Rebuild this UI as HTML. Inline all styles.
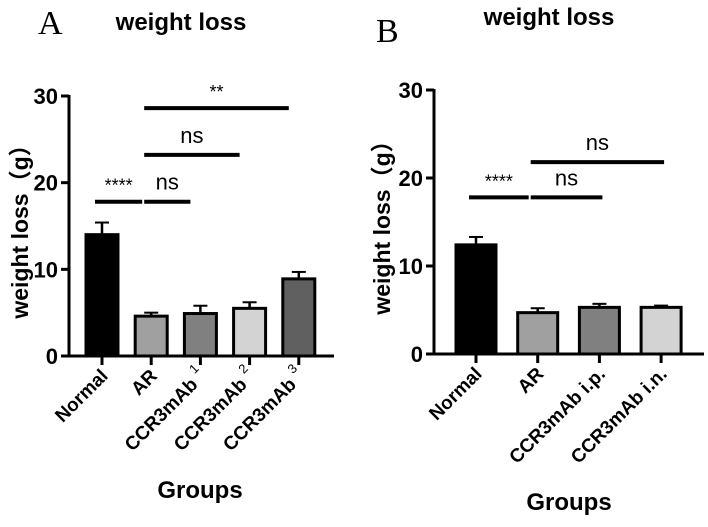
<!DOCTYPE html>
<html><head><meta charset="utf-8"><style>
body{margin:0;background:#fff;}
svg{display:block;font-family:"Liberation Sans",Arial,sans-serif;}
</style></head><body>
<svg id="chart" width="708" height="527" viewBox="0 0 708 527" xmlns="http://www.w3.org/2000/svg"></svg>
<script>
const catsA = ["Normal","AR","CCR3mAb","CCR3mAb","CCR3mAb"];
const supA = ["","","1","2","3"];
const valsA = [14.0,4.6,4.9,5.5,8.9];
const errA = [1.4,0.4,0.9,0.7,0.8];
const colorsA = ["#000000","#a0a0a0","#808080","#d3d3d3","#606060"];
const catsB = ["Normal","AR","CCR3mAb i.p.","CCR3mAb i.n."];
const valsB = [12.4,4.7,5.3,5.3];
const errB = [0.9,0.5,0.4,0.2];
const colorsB = ["#000000","#a0a0a0","#808080","#d3d3d3"];
const ticks = [0,10,20,30];
const sigA = [[0,1,17.8,"****"],[1,2,17.8,"ns"],[1,3,23.2,"ns"],[1,4,28.6,"**"]];
const sigB = [[0,1,17.8,"****"],[1,2,17.8,"ns"],[1,3,21.8,"ns"]];

const svg = document.getElementById('chart');
const NS = "http://www.w3.org/2000/svg";
function mk(tag, attrs, parent){const e=document.createElementNS(NS,tag);for(const k in attrs)e.setAttribute(k,attrs[k]);(parent||svg).appendChild(e);return e;}

function panel(p){
  const g = mk('g',{});
  
  
  const y = v => p.y0 - (v/30)*(p.y0-p.y30);
  const x = i => p.x0 + i*p.step;
  const L = mk('text',{x:p.lx,y:p.ly,'font-family':'"Liberation Serif",serif','font-size':34},g);
  L.textContent=p.letter;
  
  
  const T = mk('text',{x:p.tx,y:p.ty,'text-anchor':'middle','font-weight':'bold','font-size':24},g);
  T.textContent='weight loss';
  
  
  p.vals.forEach((v,i)=>{
    const cx=x(i);
    const e=mk('line',{x1:cx,x2:cx,y1:y(v),y2:y(v+p.err[i]),stroke:'#000','stroke-width':2.5},g);
    
    
    const c=mk('line',{x1:cx-7,x2:cx+7,y1:y(v+p.err[i]),y2:y(v+p.err[i]),stroke:'#000','stroke-width':2},g);
    
    
    const r=mk('rect',{x:cx-p.bw/2,y:y(v),width:p.bw,height:y(0)-y(v),fill:p.colors[i],stroke:'#000','stroke-width':3},g);
    
    
  });
  const ya=mk('line',{x1:p.ax,x2:p.ax,y1:y(30)-1,y2:y(0)+1.5,stroke:'#000','stroke-width':3},g);
  
  
  const xa=mk('line',{x1:p.ax,x2:p.xend,y1:y(0),y2:y(0),stroke:'#000','stroke-width':3},g);
  
  
  ticks.forEach(t=>{
    mk('line',{x1:p.ax-8,x2:p.ax,y1:y(t),y2:y(t),stroke:'#000','stroke-width':3},g);
    const tl=mk('text',{x:p.ax-11,y:y(t)+8,'text-anchor':'end','font-weight':'bold','font-size':22},g);
    tl.textContent=t;
    
    
  });
  p.cats.forEach((c,i)=>{
    const cx=x(i);
    mk('line',{x1:cx,x2:cx,y1:y(0),y2:y(0)+9,stroke:'#000','stroke-width':3},g);
    const tl=mk('text',{x:0,y:0,'text-anchor':'end','font-weight':'bold','font-size':19,transform:`translate(${cx+7},${y(0)+21}) rotate(-45)`},g);
    tl.textContent=c;
    if(p.sup && p.sup[i]){const s=mk('tspan',{dx:5,dy:-11,'font-size':13,'font-weight':'normal'},tl);s.textContent=p.sup[i];}
    
    
  });
  const yt=mk('text',{x:0,y:0,'text-anchor':'middle','font-weight':'bold','font-size':23,transform:`translate(${p.ytx},${(y(0)+y(30))/2}) rotate(-90)`},g);
  yt.textContent='weight loss（g）';
  yt.setAttribute('font-family','"Liberation Sans","Noto Sans CJK SC",sans-serif');
  
  
  const xt=mk('text',{x:p.gx,y:p.gy,'text-anchor':'middle','font-weight':'bold','font-size':24},g);
  xt.textContent='Groups';
  
  
  p.sig.forEach(s=>{
    const lx1 = s[0]===0 ? x(0)-7 : x(s[0])-7;
    const lx2 = s[0]===0 ? x(1)-9 : x(s[1])+p.endOff;
    const ln=mk('line',{x1:lx1,x2:lx2,y1:y(s[2]),y2:y(s[2]),stroke:'#000','stroke-width':4},g);
    
    
    const st=mk('text',{x:(lx1+lx2)/2,y:y(s[2])-(s[3]==='ns'?12:10),'text-anchor':'middle','font-size':s[3]==='ns'?22:18},g);
    st.textContent=s[3];
    
    
  });
}
panel({id:'a',letter:'A',lx:38,ly:34,tx:181,ty:30,x0:102,step:49.2,bw:32,y0:356,y30:96,ax:69,xend:334,endOff:-10,
  cats:catsA,sup:supA,vals:valsA,err:errA,colors:colorsA,sig:sigA,ytx:28,gx:200,gy:498});
panel({id:'b',letter:'B',lx:376,ly:42,tx:549,ty:25,x0:476,step:61.7,bw:40,y0:354,y30:90,ax:434,xend:704,endOff:3,
  cats:catsB,vals:valsB,err:errB,colors:colorsB,sig:sigB,ytx:390,gx:569,gy:510});
</script>
</body></html>
